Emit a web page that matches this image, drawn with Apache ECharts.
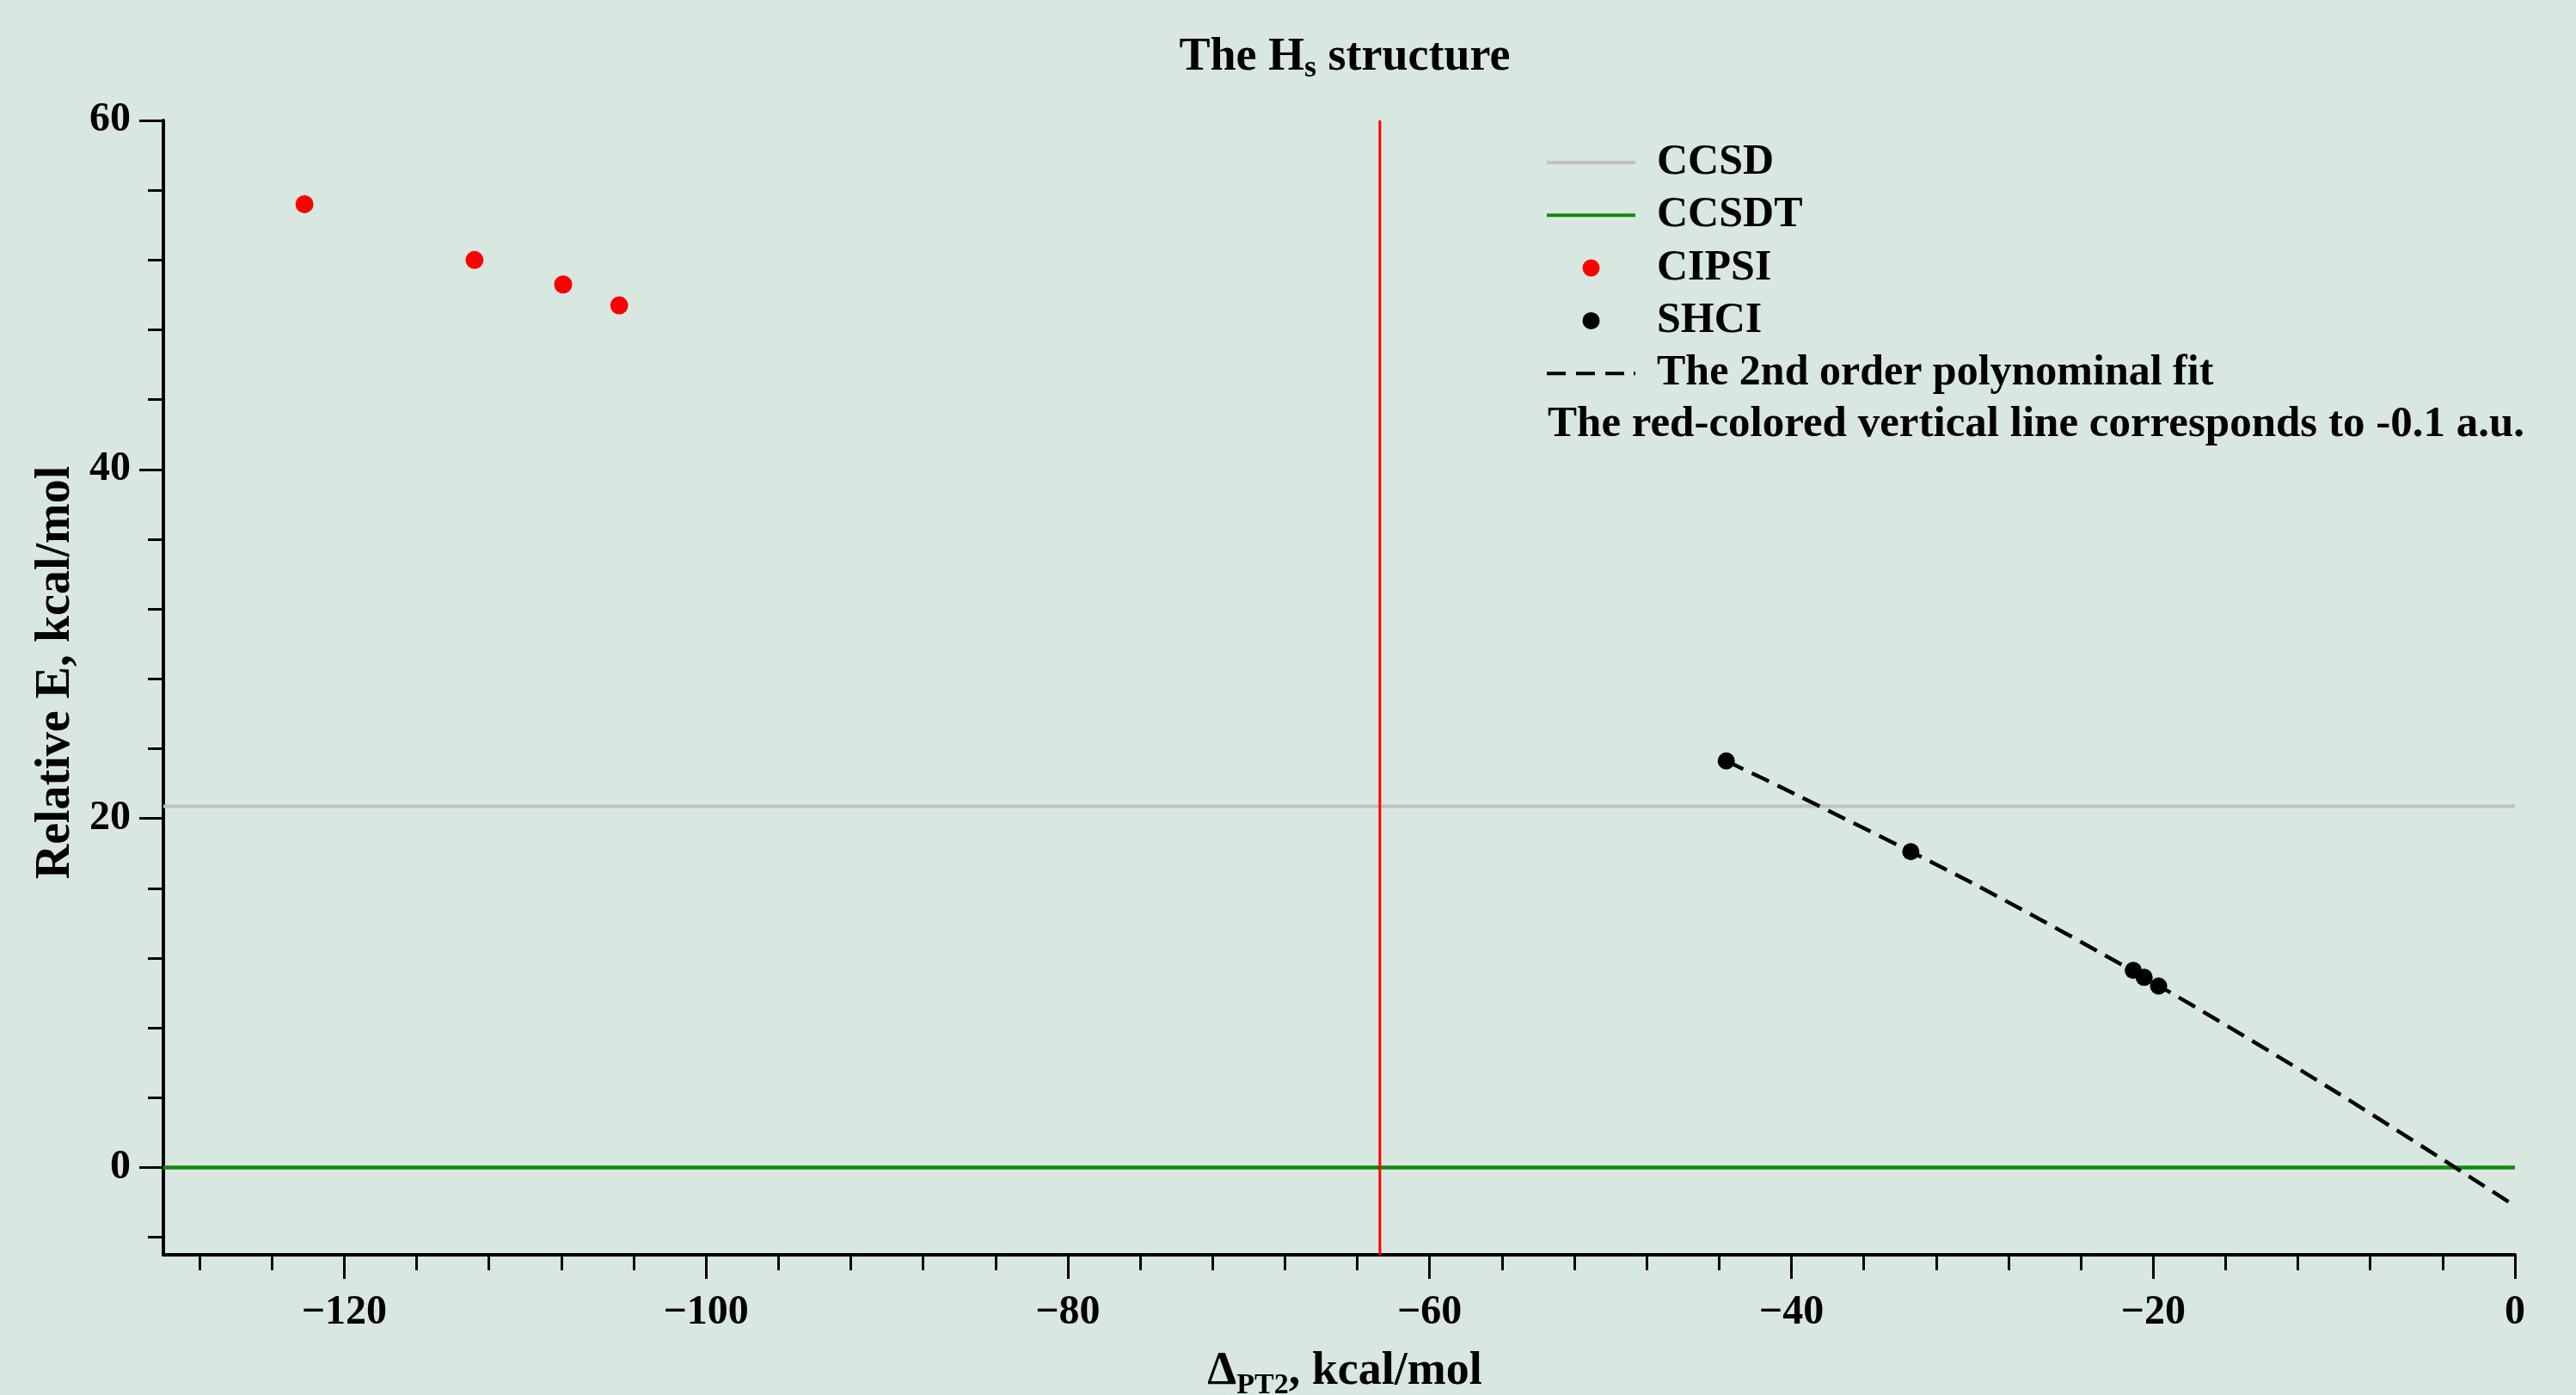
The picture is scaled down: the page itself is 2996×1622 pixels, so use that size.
<!DOCTYPE html>
<html>
<head>
<meta charset="utf-8">
<script src="https://cdn.jsdelivr.net/npm/echarts@6/dist/echarts.min.js"></script>
<style>
html,body{margin:0;padding:0;background:#d8e8e0;}
#main{width:2996px;height:1622px;}
</style>
</head>
<body>
<div id="main"></div>
<script>
// ---- data ----
const xTickValues = [-120, -100, -80, -60, -40, -20, 0];
const xMinorTickValues = [-128, -124, -120, -116, -112, -108, -104, -100, -96, -92, -88, -84, -80, -76, -72, -68, -64, -60, -56, -52, -48, -44, -40, -36, -32, -28, -24, -20, -16, -12, -8, -4, 0];
const yTickValues = [0, 20, 40, 60];
const yMinorTickValues = [-4, 0, 4, 8, 12, 16, 20, 24, 28, 32, 36, 40, 44, 48, 52, 56, 60];

const ccsdX = [-130, 0];
const ccsdY = [20.7, 20.7];
const ccsdtX = [-130, 0];
const ccsdtY = [0, 0];
const redLineX = [-62.75, -62.75];
const redLineY = [-5, 60];

const cipsiX = [-122.2, -112.8, -107.9, -104.8];
const cipsiY = [55.2, 52.0, 50.6, 49.4];

const shciX = [-43.6, -33.4, -21.1, -20.5, -19.7];
const shciY = [23.3, 18.1, 11.3, 10.9, 10.4];

const fitX = [-43.6, -40, -30, -20, -10, 0];
const fitY = [23.3, 21.5, 16.3, 10.6, 4.4, -2.2];

const legendNames = ['CCSD', 'CCSDT', 'CIPSI', 'SHCI', 'The 2nd order polynominal fit'];
const noteText = 'The red-colored vertical line corresponds to -0.1 a.u.';

// ---- chart ----
const FONT = '"Liberation Serif", "Times New Roman", serif';
const pairs = (xs, ys) => xs.map((x, i) => [x, ys[i]]);
const fmt = v => (v < 0 ? '\u2212' + Math.abs(v) : String(v));

const SOLID_ICON = 'path://M0,0H103V4H0Z';
const DASH_ICON = 'path://M0,0H22V4H0Z M34,0H56V4H34Z M68,0H90V4H68Z M101,0H103V4H101Z';

const chart = echarts.init(document.getElementById('main'), null, {renderer: 'canvas'});

const option = {
  backgroundColor: '#d8e8e0',
  animation: false,
  grid: {left: 190, right: 71, top: 140, bottom: 163, containLabel: false},
  legend: {
    data: [
      {name: legendNames[0], icon: SOLID_ICON},
      {name: legendNames[1], icon: SOLID_ICON},
      {name: legendNames[2], icon: 'circle'},
      {name: legendNames[3], icon: 'circle'},
      {name: legendNames[4], icon: DASH_ICON}
    ],
    orient: 'vertical',
    left: 1799,
    top: 164,
    padding: 0,
    itemWidth: 103,
    itemHeight: 20,
    itemGap: 11.3,
    selectedMode: false,
    textStyle: {
      fontFamily: FONT, fontWeight: 'bold', fontSize: 50, color: '#000',
      lineHeight: 44, padding: [0, 0, 0, 20]
    }
  },
  xAxis: [{
    type: 'value', min: -130, max: 0, position: 'bottom',
    axisLine: {show: true, onZero: false, lineStyle: {color: '#000', width: 4}},
    axisTick: {show: true, customValues: xTickValues, length: 28, lineStyle: {color: '#000', width: 3}},
    axisLabel: {
      show: true, customValues: xTickValues, margin: 44, formatter: fmt,
      fontFamily: FONT, fontWeight: 'bold', fontSize: 48, color: '#000', lineHeight: 48
    },
    splitLine: {show: false}
  }, {
    type: 'value', min: -130, max: 0, position: 'bottom',
    axisLine: {show: false, onZero: false},
    axisTick: {show: true, customValues: xMinorTickValues, length: 18, lineStyle: {color: '#000', width: 3}},
    axisLabel: {show: false},
    splitLine: {show: false}
  }],
  yAxis: [{
    type: 'value', min: -5, max: 60, position: 'left',
    axisLine: {show: true, onZero: false, lineStyle: {color: '#000', width: 4}},
    axisTick: {show: true, customValues: yTickValues, length: 28, lineStyle: {color: '#000', width: 3}},
    axisLabel: {
      show: true, customValues: yTickValues, margin: 38, formatter: fmt,
      fontFamily: FONT, fontWeight: 'bold', fontSize: 48, color: '#000'
    },
    splitLine: {show: false}
  }, {
    type: 'value', min: -5, max: 60, position: 'left',
    axisLine: {show: false, onZero: false},
    axisTick: {show: true, customValues: yMinorTickValues, length: 18, lineStyle: {color: '#000', width: 3}},
    axisLabel: {show: false},
    splitLine: {show: false}
  }],
  series: [
    {
      name: 'CCSD', type: 'line', data: pairs(ccsdX, ccsdY), symbol: 'none',
      lineStyle: {color: '#c2c2c2', width: 4}, itemStyle: {color: '#c2c2c2'}, z: 2
    },
    {
      name: 'CCSDT', type: 'line', data: pairs(ccsdtX, ccsdtY), symbol: 'none',
      lineStyle: {color: '#128a12', width: 4.5}, itemStyle: {color: '#128a12'}, z: 2
    },
    {
      name: 'vline', type: 'line', data: pairs(redLineX, redLineY), symbol: 'none',
      lineStyle: {color: '#ff0000', width: 3}, itemStyle: {color: '#ff0000'}, z: 3
    },
    {
      name: 'CIPSI', type: 'scatter', data: pairs(cipsiX, cipsiY), symbol: 'circle', symbolSize: 21,
      itemStyle: {color: '#ff0000', opacity: 1}, z: 5
    },
    {
      name: 'SHCI', type: 'scatter', data: pairs(shciX, shciY), symbol: 'circle', symbolSize: 20,
      itemStyle: {color: '#000000', opacity: 1}, z: 5
    },
    {
      name: 'The 2nd order polynominal fit', type: 'line', data: pairs(fitX, fitY), symbol: 'none',
      smooth: 0.3,
      lineStyle: {color: '#000', width: 4.5, type: [22, 11]}, itemStyle: {color: '#000'}, z: 4
    }
  ],
  graphic: [
    {
      type: 'text', x: 1564, y: 69,
      style: {
        text: '{a|The H}{s|s}{a| structure}',
        align: 'center', verticalAlign: 'middle',
        rich: {
          a: {fontFamily: FONT, fontWeight: 'bold', fontSize: 54, fill: '#000', verticalAlign: 'bottom', padding: [0, 0, 4, 0]},
          s: {fontFamily: FONT, fontWeight: 'bold', fontSize: 36, fill: '#000', verticalAlign: 'bottom'}
        }
      }
    },
    {
      type: 'text', x: 1564, y: 1598,
      style: {
        text: '{a|\u0394}{s|PT2}{a|, kcal/mol}',
        align: 'center', verticalAlign: 'middle',
        rich: {
          a: {fontFamily: FONT, fontWeight: 'bold', fontSize: 54, fill: '#000', verticalAlign: 'bottom', padding: [0, 0, 6, 0]},
          s: {fontFamily: FONT, fontWeight: 'bold', fontSize: 34, fill: '#000', verticalAlign: 'bottom'}
        }
      }
    },
    {
      type: 'text', x: 66, y: 782, rotation: Math.PI / 2,
      style: {
        text: 'Relative E, kcal/mol',
        align: 'center', verticalAlign: 'middle',
        fontFamily: FONT, fontWeight: 'bold', fontSize: 56, fill: '#000'
      }
    },
    {
      type: 'text', x: 1800, y: 494,
      style: {
        text: noteText,
        align: 'left', verticalAlign: 'middle',
        fontFamily: FONT, fontWeight: 'bold', fontSize: 51, fill: '#000'
      }
    }
  ]
};

chart.setOption(option);
</script>
</body>
</html>
